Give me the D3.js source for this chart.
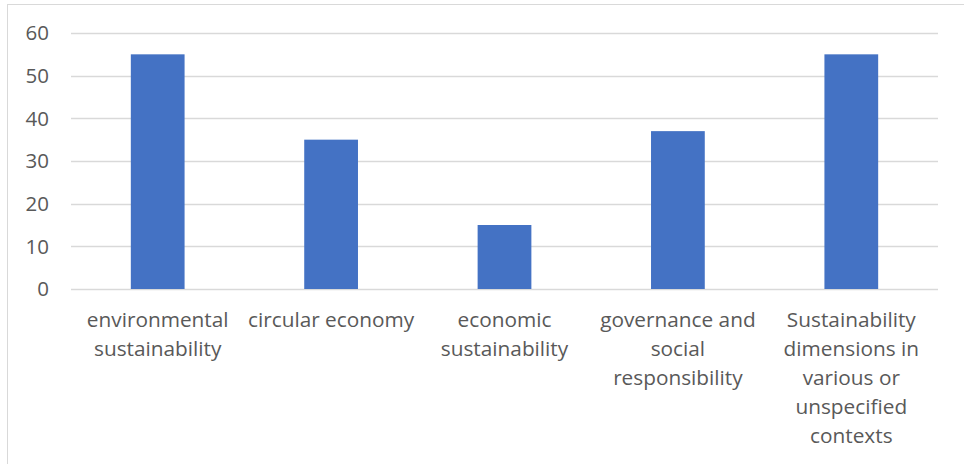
<!DOCTYPE html>
<html>
<head>
<meta charset="utf-8">
<script src="https://cdn.jsdelivr.net/npm/d3@7"></script>
<style>
  html, body { margin: 0; padding: 0; background: #fff; }
  svg text { font-family: "Open Sans", "Liberation Sans", sans-serif; fill: #595959; }
</style>
</head>
<body>
<div id="chart"></div>
<script>
const categories = [
  ['environmental', 'sustainability'],
  ['circular economy'],
  ['economic', 'sustainability'],
  ['governance and', 'social', 'responsibility'],
  ['Sustainability', 'dimensions in', 'various or', 'unspecified', 'contexts']
];
const values = [55, 35, 15, 37, 55];
const yTicks = [0, 10, 20, 30, 40, 50, 60];

const width = 964;
const height = 464;
const margin = {top: 33, right: 26, bottom: 175, left: 71};

const svg = d3.select('#chart')
  .append('svg')
  .attr('width', width)
  .attr('height', height);

// outer chart border (only left and top are visible in the crop)
svg.append('rect')
  .attr('x', 7.5)
  .attr('y', 4.5)
  .attr('width', width + 20)
  .attr('height', height + 20)
  .attr('fill', 'none')
  .attr('stroke', '#d9d9d9')
  .attr('stroke-width', 1);

const x = d3.scaleBand()
  .domain(d3.range(values.length))
  .range([margin.left, width - margin.right])
  .paddingInner(0.69)
  .paddingOuter(0.345);

const y = d3.scaleLinear()
  .domain([0, 60])
  .range([height - margin.bottom, margin.top]);

// gridlines
svg.append('g')
  .selectAll('line')
  .data(yTicks)
  .join('line')
  .attr('x1', margin.left)
  .attr('x2', width - margin.right)
  .attr('y1', d => Math.round(y(d)) + 0.5)
  .attr('y2', d => Math.round(y(d)) + 0.5)
  .attr('stroke', '#d9d9d9')
  .attr('stroke-width', 1.3);

// y tick labels
svg.append('g')
  .selectAll('text')
  .data(yTicks)
  .join('text')
  .attr('x', 49)
  .attr('y', d => y(d))
  .attr('dy', '0.35em')
  .attr('text-anchor', 'end')
  .attr('font-size', 20.5)
  .text(d => d);

// bars
svg.append('g')
  .selectAll('rect')
  .data(values)
  .join('rect')
  .attr('x', (d, i) => x(i))
  .attr('y', d => y(d))
  .attr('width', x.bandwidth())
  .attr('height', d => y(0) - y(d))
  .attr('fill', '#4472c4');

// category labels
const labels = svg.append('g')
  .selectAll('text')
  .data(categories)
  .join('text')
  .attr('text-anchor', 'middle')
  .attr('font-size', 20.8)
  .attr('x', (d, i) => x(i) + x.bandwidth() / 2)
  .attr('y', 327);

labels.selectAll('tspan')
  .data(d => d)
  .join('tspan')
  .attr('x', function() { return this.parentNode.getAttribute('x'); })
  .attr('dy', (d, i) => i === 0 ? 0 : 29)
  .text(d => d);
</script>
</body>
</html>
